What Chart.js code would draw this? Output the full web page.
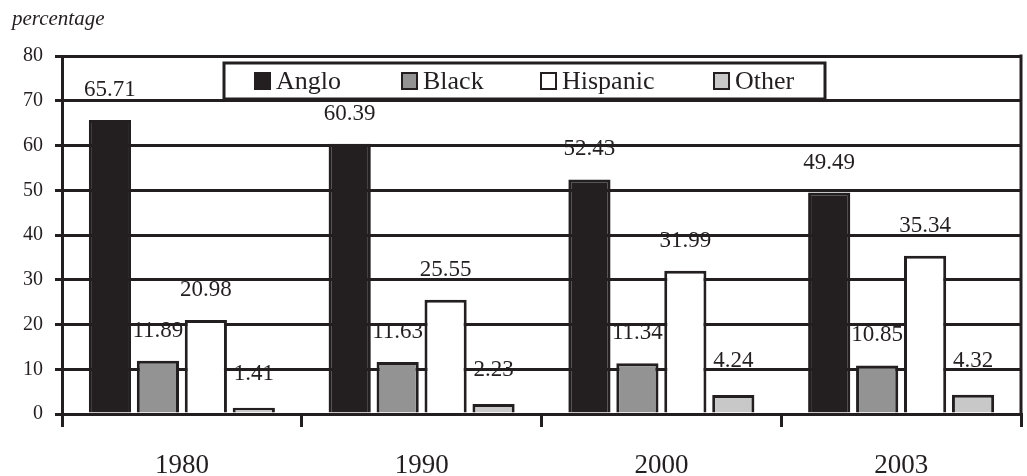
<!DOCTYPE html>
<html>
<head>
<meta charset="utf-8">
<script src="https://cdn.jsdelivr.net/npm/chart.js@4.4.1/dist/chart.umd.min.js"></script>
<style>
  html, body { margin: 0; padding: 0; background: #ffffff; }
  #wrap { width: 1027px; height: 476px; position: relative; }
</style>
</head>
<body>
<div id="wrap"><canvas id="c" width="1027" height="476"></canvas></div>
<script>
// ---- data ----
const categories = ['1980', '1990', '2000', '2003'];
const seriesNames = ['Anglo', 'Black', 'Hispanic', 'Other'];
const anglo    = [65.71, 60.39, 52.43, 49.49];
const black    = [11.89, 11.63, 11.34, 10.85];
const hispanic = [20.98, 25.55, 31.99, 35.34];
const other    = [1.41, 2.23, 4.24, 4.32];
const yTicks   = [0, 10, 20, 30, 40, 50, 60, 70, 80];
const yAxisTitle = 'percentage';

const INK = '#231f20';
const FONT = "'Liberation Serif', 'DejaVu Serif', serif";
const fills = ['#231f20', '#939393', '#ffffff', '#c8c8c8'];
const seriesValues = [anglo, black, hispanic, other];

const datasets = seriesNames.map((name, i) => ({
  label: name,
  data: seriesValues[i],
  backgroundColor: fills[i],
  borderColor: INK,
  borderWidth: 3,
  borderSkipped: 'bottom',
  categoryPercentage: 0.80,
  barPercentage: 0.88
}));

const labelOffsets = [30, 30, 30, 34];

const decorPlugin = {
  id: 'decor',
  afterDraw(chart) {
    const ctx = chart.ctx;
    const area = chart.chartArea;
    ctx.save();
    // right border
    ctx.strokeStyle = INK;
    ctx.lineWidth = 3;
    ctx.beginPath();
    ctx.moveTo(area.right, area.top - 1.5);
    ctx.lineTo(area.right, area.bottom);
    ctx.stroke();

    // data labels
    ctx.fillStyle = INK;
    ctx.font = '23px ' + FONT;
    ctx.textAlign = 'center';
    ctx.textBaseline = 'middle';
    chart.data.datasets.forEach((ds, di) => {
      const meta = chart.getDatasetMeta(di);
      meta.data.forEach((el, i) => {
        ctx.fillText(String(ds.data[i]), el.x, el.y - labelOffsets[di]);
      });
    });

    // axis title
    ctx.font = 'italic 21px ' + FONT;
    ctx.textAlign = 'left';
    ctx.textBaseline = 'top';
    ctx.fillText(yAxisTitle, 12, 9);

    // legend box
    const box = { l: 224, t: 63, r: 825, b: 99 };
    ctx.fillStyle = '#ffffff';
    ctx.fillRect(box.l, box.t, box.r - box.l, box.b - box.t);
    ctx.lineWidth = 3;
    ctx.strokeStyle = INK;
    ctx.strokeRect(box.l, box.t, box.r - box.l, box.b - box.t);
    const itemX = [255, 402, 541, 714];
    ctx.font = '26px ' + FONT;
    ctx.textBaseline = 'middle';
    chart.data.datasets.forEach((ds, di) => {
      const x = itemX[di];
      const cy = (box.t + box.b) / 2;
      ctx.fillStyle = ds.backgroundColor;
      ctx.fillRect(x, cy - 8, 15, 16);
      ctx.lineWidth = 2;
      ctx.strokeStyle = INK;
      ctx.strokeRect(x, cy - 8, 15, 16);
      ctx.fillStyle = INK;
      ctx.fillText(ds.label, x + 21, cy + 1);
    });
    ctx.restore();
  }
};

new Chart(document.getElementById('c'), {
  type: 'bar',
  data: { labels: categories, datasets },
  options: {
    responsive: false,
    animation: false,
    devicePixelRatio: 1,
    layout: { padding: { left: 0, right: 6, top: 56, bottom: 0 } },
    plugins: {
      legend: { display: false },
      title: { display: false },
      tooltip: { enabled: false }
    },
    scales: {
      x: {
        grid: {
          offset: true,
          drawOnChartArea: false,
          drawTicks: true,
          tickLength: 13,
          color: INK,
          lineWidth: 3
        },
        border: { display: true, color: INK, width: 3 },
        ticks: {
          color: INK,
          font: { family: FONT, size: 27 },
          padding: 23,
          maxRotation: 0
        },
        afterFit(scale) { scale.height = 62; }
      },
      y: {
        min: 0,
        max: 80,
        afterBuildTicks(scale) { scale.ticks = yTicks.map(v => ({ value: v })); },
        grid: {
          color: INK,
          lineWidth: 3,
          tickLength: 7,
          drawTicks: true
        },
        border: { display: true, color: INK, width: 3 },
        ticks: {
          color: INK,
          font: { family: FONT, size: 20 },
          padding: 12
        },
        afterFit(scale) { scale.width = 62; }
      }
    }
  },
  plugins: [decorPlugin]
});
</script>
</body>
</html>
